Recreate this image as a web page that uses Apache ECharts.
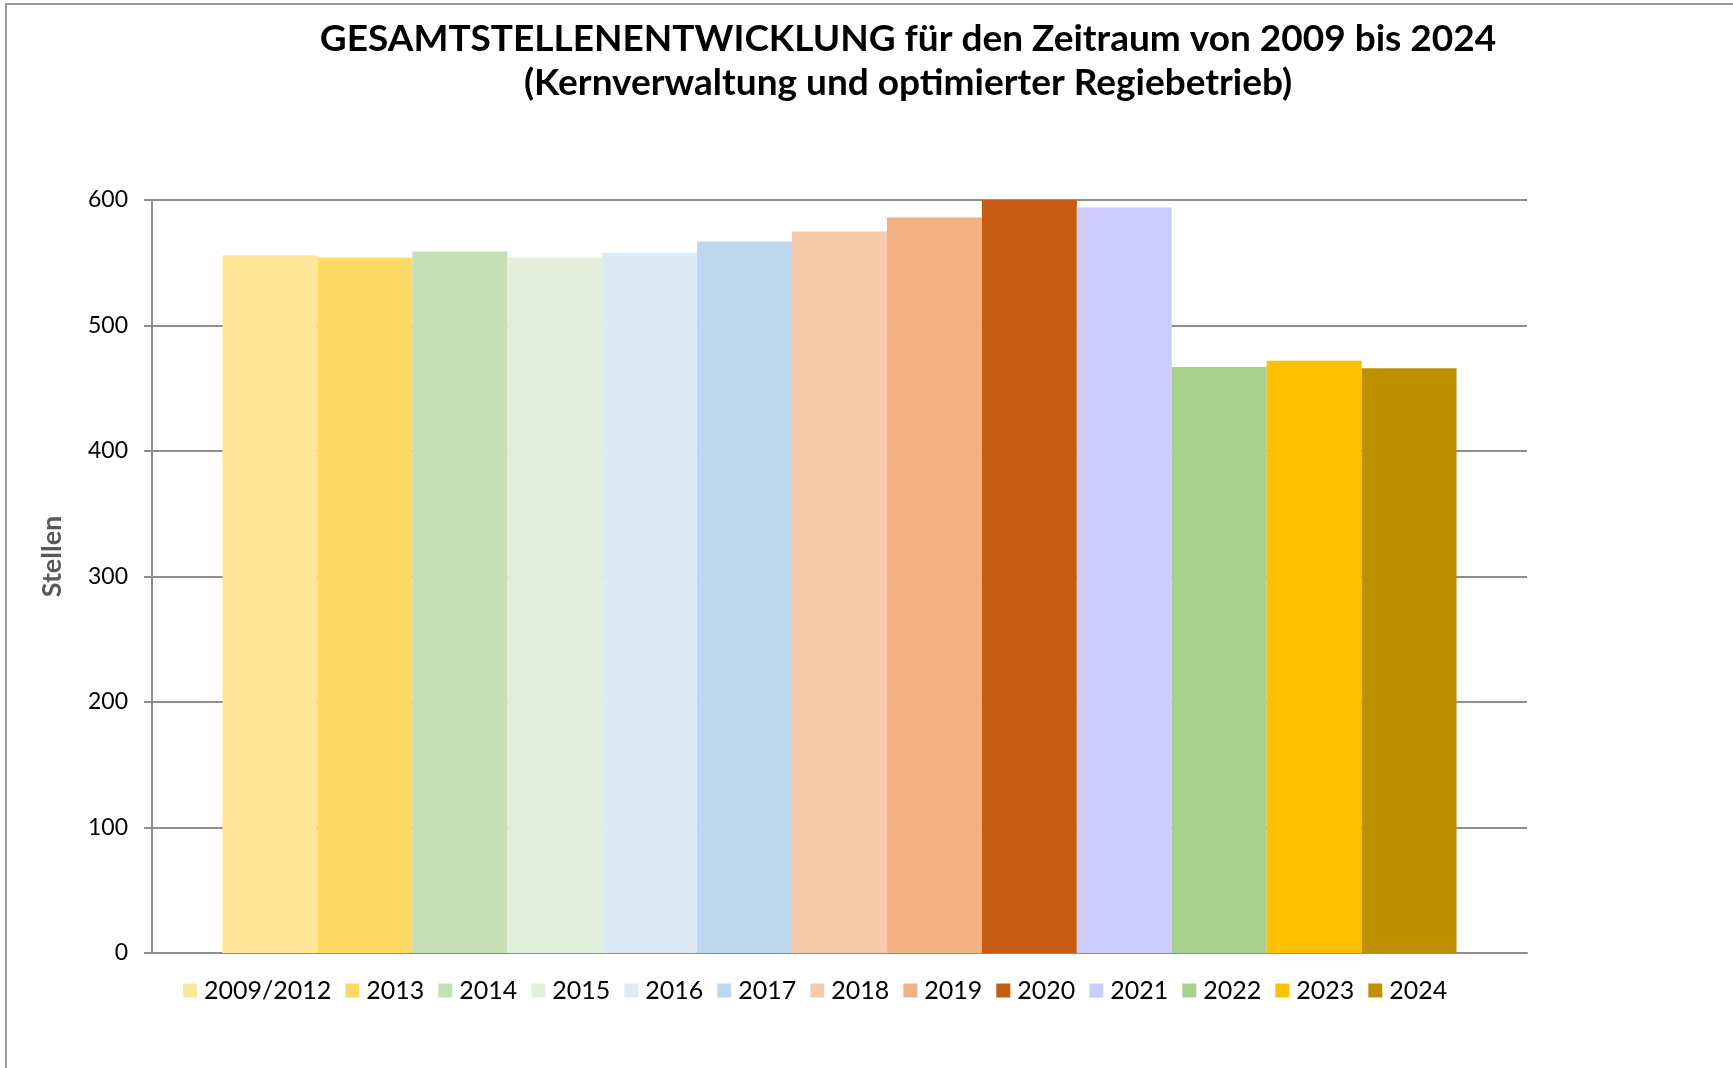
<!DOCTYPE html>
<html>
<head>
<meta charset="utf-8">
<title>Gesamtstellenentwicklung</title>
<script src="https://cdn.jsdelivr.net/npm/echarts@6/dist/echarts.min.js"></script>
<style>
  html, body { margin: 0; padding: 0; background: #fff; }
  #chart { width: 1733px; height: 1068px; }
</style>
</head>
<body>
<div id="chart"></div>
<script>
// Stellen je Jahr (Kernverwaltung + optimierter Regiebetrieb)
var years = ['2009/2012', '2013', '2014', '2015', '2016', '2017', '2018', '2019', '2020', '2021', '2022', '2023', '2024'];
var stellen = [556, 554, 559, 554, 558, 567, 575, 586, 600, 594, 467, 472, 466];
var yTicks = [0, 100, 200, 300, 400, 500, 600];

var palette = ['#FFE699', '#FFD966', '#C5E0B4', '#E2EFDA', '#DDEBF7', '#BDD7EE', '#F8CBAD',
  '#F4B183', '#C55A11', '#CCCCFF', '#A9D18E', '#FFC000', '#BF9000'];

var chart = echarts.init(document.getElementById('chart'));

var series = years.map(function (y, i) {
  return {
    name: y,
    type: 'bar',
    data: [stellen[i]],
    barGap: '0%',
    barCategoryGap: '10.25%',
    itemStyle: { color: palette[i] },
    emphasis: { disabled: true }
  };
});

var option = {
  backgroundColor: '#fff',
  animation: false,
  textStyle: { fontFamily: 'Lato' },
  title: {
    text: 'GESAMTSTELLENENTWICKLUNG für den Zeitraum von 2009 bis 2024\n(Kernverwaltung und optimierter Regiebetrieb)',
    left: 903,
    top: 12,
    textAlign: 'center',
    textStyle: { fontFamily: 'Lato', fontWeight: 'bold', fontSize: 37, lineHeight: 44, color: '#000' }
  },
  graphic: [{
    type: 'rect',
    shape: { x: 6, y: 4, width: 3000, height: 3000 },
    style: { fill: 'none', stroke: '#9a9a9a', lineWidth: 2 },
    silent: true
  }],
  legend: {
    left: 178,
    top: 973,
    icon: 'rect',
    itemWidth: 14,
    itemHeight: 14,
    itemGap: 14,
    textStyle: { fontFamily: 'Lato', fontSize: 25, color: '#000', padding: [0, 0, 0, 2] },
    data: years
  },
  grid: { left: 152, right: 206, top: 200, bottom: 115 },
  xAxis: {
    type: 'category',
    data: [''],
    axisLine: { lineStyle: { color: '#8e8e8e', width: 2 } },
    axisTick: { show: false },
    axisLabel: { show: false }
  },
  yAxis: {
    type: 'value',
    min: yTicks[0],
    max: yTicks[yTicks.length - 1],
    interval: 100,
    name: 'Stellen',
    nameLocation: 'middle',
    nameGap: 86,
    nameTextStyle: { fontFamily: 'Lato', fontWeight: 'bold', fontSize: 27, color: '#595959', padding: [0, 0, 0, 40] },
    axisLine: { show: true, lineStyle: { color: '#8e8e8e', width: 2 } },
    axisTick: { show: true, length: 8, lineStyle: { color: '#8e8e8e', width: 2 } },
    axisLabel: { fontFamily: 'Lato', fontSize: 23, color: '#000', margin: 24 },
    splitLine: { lineStyle: { color: '#8e8e8e', width: 2 } }
  },
  series: series
};

chart.setOption(option);
</script>
</body>
</html>
